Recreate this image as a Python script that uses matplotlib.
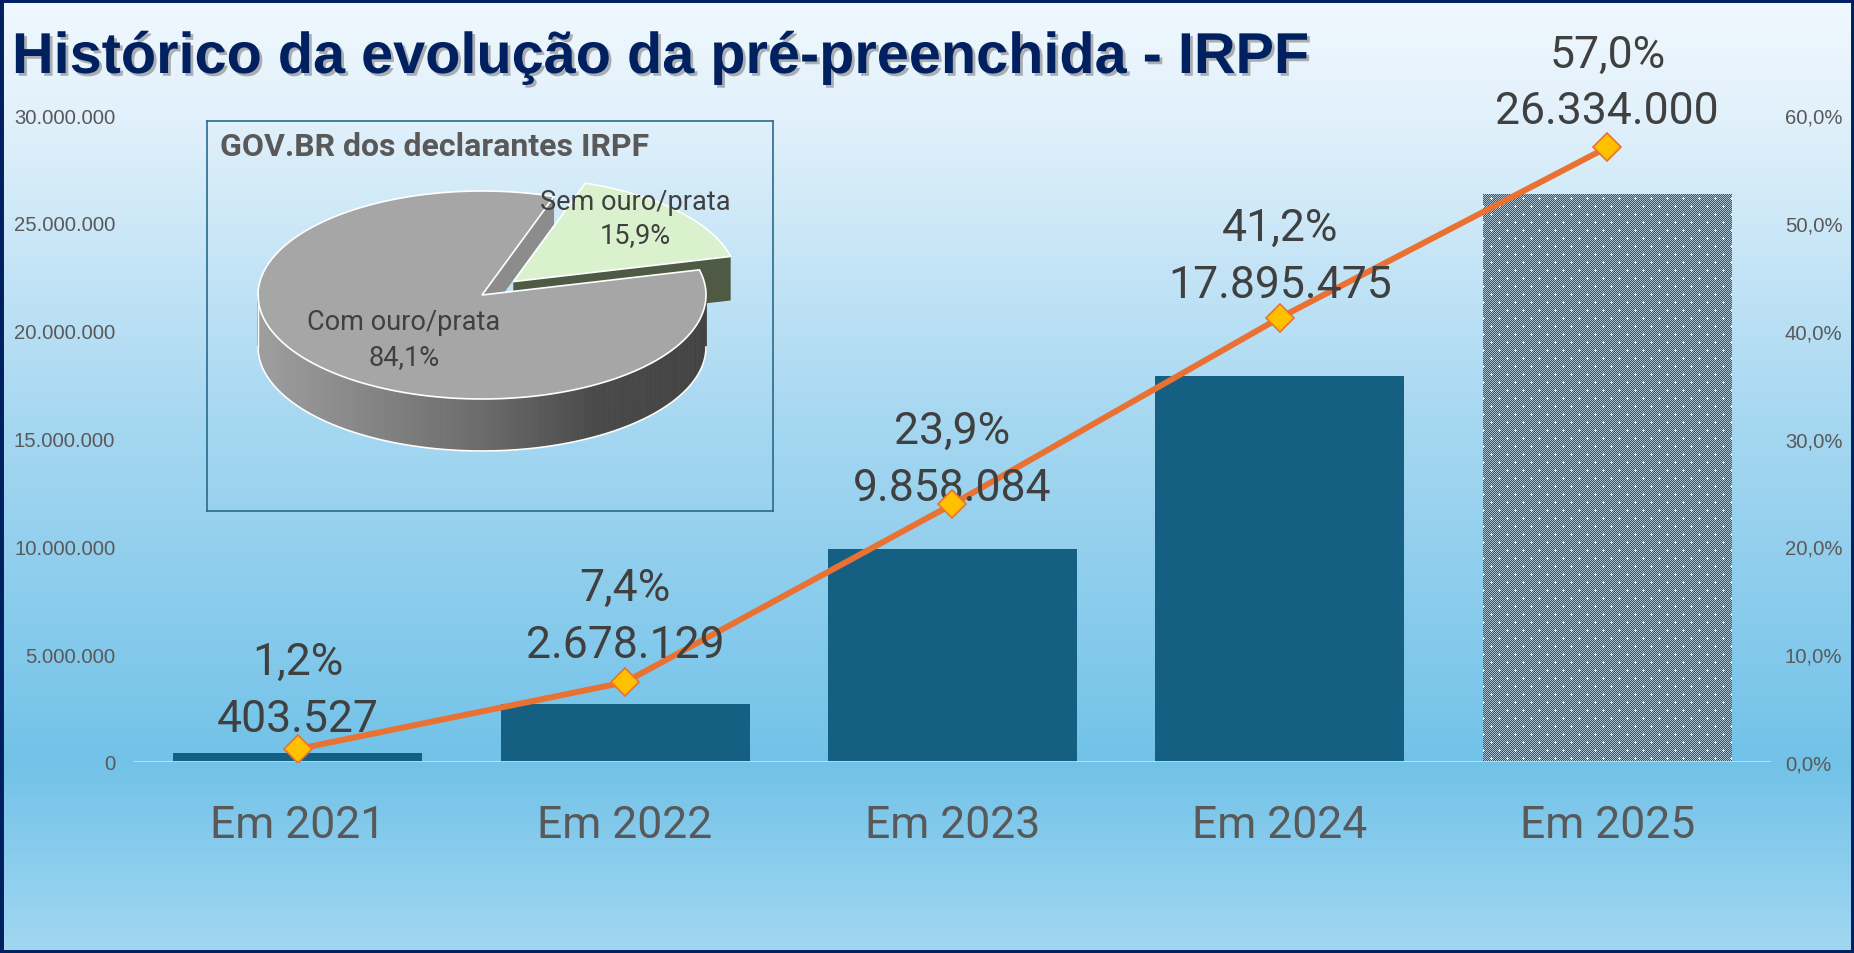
import numpy as np
import matplotlib
matplotlib.use("Agg")
import matplotlib.pyplot as plt
import matplotlib.patheffects as pe
from matplotlib.patches import Polygon, Rectangle
from matplotlib.collections import PolyCollection

W, H, DPI = 1854, 954, 100

# dados
years = ["Em 2021", "Em 2022", "Em 2023", "Em 2024", "Em 2025"]
declarants = [403527, 2678129, 9858084, 17895475, 26334000]
pct_prefilled = [1.2, 7.4, 23.9, 41.2, 57.0]
pie_labels = ["Com ouro/prata", "Sem ouro/prata"]
pie_share = [84.1, 15.9]
left_ticks = [0, 5000000, 10000000, 15000000, 20000000, 25000000, 30000000]
right_ticks = [0, 10, 20, 30, 40, 50, 60]

# deslocamento (px) dos rotulos acima do marcador
val_dy = [34, 41, 20, 37, 40]
pct_dy = [91, 98, 77, 94, 96]

TXT = "#404040"
AXC = "#595959"
LBL_FONT = ["Roboto", "DejaVu Sans"]
TICK_FONT = ["Liberation Sans", "DejaVu Sans"]
LBL_SIZE = 32


def br_int(v):
    return f"{v:,.0f}".replace(",", ".")


def br_pct(v):
    return f"{v:.1f}%".replace(".", ",")


def fx(x):
    return x / W


def fy(y):
    return 1 - y / H


fig = plt.figure(figsize=(W / DPI, H / DPI), dpi=DPI)

# fundo em degrade
bg = fig.add_axes([0, 0, 1, 1])
bg.axis("off")
stops = [(0.0, (240, 248, 254)), (0.12, (226, 241, 251)), (0.45, (165, 215, 241)),
         (0.80, (114, 194, 232)), (1.0, (162, 215, 242))]
yy = np.linspace(0, 1, H)
pos = [s[0] for s in stops]
grad = np.stack([np.interp(yy, pos, [s[1][k] for s in stops]) for k in range(3)], axis=-1) / 255
bg.imshow(grad[:, None, :], aspect="auto", extent=(0, 1, 0, 1))
bg.set_zorder(0)

# grafico principal
ax = fig.add_axes([fx(134), fy(763), fx(1771 - 134), (763 - 116) / H])
ax.set_zorder(1)
ax.patch.set_alpha(0)
x = np.arange(len(years))
bars = ax.bar(x, declarants, width=0.76, color="#156082", zorder=2)
ax.set_xlim(-0.5, len(years) - 0.5)
ax.set_ylim(0, 30000000)
for s in ax.spines.values():
    s.set_visible(False)
ax.axhline(0, color="#D9D9D9", lw=1.3, zorder=3)
ax.set_yticks(left_ticks, [br_int(v) for v in left_ticks])
ax.set_xticks(x, years)
ax.tick_params(axis="y", length=0, pad=13.5, labelsize=14.6, labelcolor=AXC)
ax.tick_params(axis="x", length=0, pad=30, labelsize=32, labelcolor=AXC)
for t in ax.get_yticklabels():
    t.set_family(TICK_FONT)
for t in ax.get_xticklabels():
    t.set_family(LBL_FONT)

# barra 2025 com padrao xadrez
last = bars[-1]
bx0, by0 = ax.transData.transform((x[-1] - 0.38, 0))
bx1, by1 = ax.transData.transform((x[-1] + 0.38, declarants[-1]))
wpx, hpx = int(round(bx1 - bx0)), int(round(by1 - by0))
ii, jj = np.indices((hpx, wpx))
tex = np.where(((ii + jj) % 2 == 0)[..., None],
               np.array([0.12, 0.37, 0.50]), np.array([0.66, 0.76, 0.82]))
rr = ii % 8
cc = (jj + (ii // 8 % 2) * 8) % 16
cross = ((rr == 4) & (abs(cc - 8) <= 1)) | ((cc == 8) & (abs(rr - 4) <= 1))
tex[cross] = 0.95
im = ax.imshow(tex, extent=(x[-1] - 0.38, x[-1] + 0.38, 0, declarants[-1]),
               aspect="auto", interpolation="nearest", zorder=2.1)
im.set_clip_path(last)
ax.set_xlim(-0.5, len(years) - 0.5)
ax.set_ylim(0, 30000000)

# eixo secundario e linha
ax2 = ax.twinx()
ax2.set_ylim(0, 60)
for s in ax2.spines.values():
    s.set_visible(False)
ax2.set_yticks(right_ticks, [br_pct(v) for v in right_ticks])
ax2.tick_params(axis="y", length=0, pad=10, labelsize=14.6, labelcolor=AXC)
for t in ax2.get_yticklabels():
    t.set_family(TICK_FONT)
ax2.plot(x, pct_prefilled, color="#E97132", lw=4.3, zorder=3, solid_capstyle="round")
ax2.plot(x, pct_prefilled, ls="none", marker="D", ms=14, mfc="#FFC000",
         mec="#E97132", mew=1.2, zorder=5)

cap = 0.711 * LBL_SIZE * DPI / 72 / 2
for i in range(len(years)):
    ax2.annotate(br_int(declarants[i]), (x[i], pct_prefilled[i]),
                 xytext=(0, (val_dy[i] - cap) * 72 / DPI), textcoords="offset points",
                 ha="center", va="baseline", fontsize=LBL_SIZE, color=TXT,
                 family=LBL_FONT, zorder=4)
    ax2.annotate(br_pct(pct_prefilled[i]), (x[i], pct_prefilled[i]),
                 xytext=(0, (pct_dy[i] - cap) * 72 / DPI), textcoords="offset points",
                 ha="center", va="baseline", fontsize=LBL_SIZE, color=TXT,
                 family=LBL_FONT, zorder=4)

# titulo
fig.text(fx(12), fy(74), "Histórico da evolução da pré-preenchida - IRPF",
         fontsize=41.5, fontweight="bold", color="#002060", family=TICK_FONT,
         va="baseline", ha="left",
         path_effects=[pe.withSimplePatchShadow(offset=(2, -2), shadow_rgbFace="#808080", alpha=0.6)])

# grafico de pizza 3D (inserido)
axp = fig.add_axes([fx(207), fy(512), fx(773 - 207), (512 - 122) / H])
axp.set_zorder(3)
axp.set_xlim(207, 773)
axp.set_ylim(512, 122)
axp.set_xticks([])
axp.set_yticks([])
axp.patch.set_alpha(0)
for s in axp.spines.values():
    s.set_color("#2A6A8C")
    s.set_linewidth(1.2)

cx, cy, ra, rb, depth = 482, 296, 224, 104, 52
total = sum(pie_share)
sem_t0 = 14.0
sem_t1 = sem_t0 + 360 * pie_share[1] / total
com_t0, com_t1 = sem_t1, sem_t0 + 360
mid = np.radians((sem_t0 + sem_t1) / 2)
sc = (cx + 0.19 * ra * np.cos(mid), cy - 0.19 * rb * np.sin(mid))


def rim(c, t_deg, dz=0):
    t = np.radians(t_deg)
    return np.column_stack([c[0] + ra * np.cos(t), c[1] - rb * np.sin(t) + dz])


def wall(c, t_deg, color, dz=depth):
    p = rim(c, t_deg)[0]
    return Polygon([c, p, (p[0], p[1] + dz), (c[0], c[1] + dz)], closed=True,
                   facecolor=color, edgecolor="none")


# parede da fatia grande no vao
axp.add_patch(wall((cx, cy), com_t0, "#8C8C8C", dz=28))
# fatia destacada
axp.add_patch(wall(sc, sem_t0, "#4E5A44", dz=44))
arc = rim(sc, np.linspace(sem_t0, sem_t1, 80))
axp.add_patch(Polygon(np.vstack([[sc], arc]), closed=True, facecolor="#D9F1CD",
                      edgecolor="white", lw=1.2))
# lateral frontal da fatia grande com degrade
ts = np.linspace(180, 360, 181)
top = rim((cx, cy), ts)
bot = rim((cx, cy), ts, depth)
quads = [[top[k], top[k + 1], bot[k + 1], bot[k]] for k in range(len(ts) - 1)]
u = (np.cos(np.radians(ts[:-1] + 0.5)) + 1) / 2
g = np.interp(u, [0, 0.5, 0.75, 1], [0.62, 0.42, 0.29, 0.26])
axp.add_collection(PolyCollection(quads, facecolors=np.column_stack([g, g, g]),
                                  edgecolors=np.column_stack([g, g, g]), linewidths=0.5))
axp.plot(bot[:, 0], bot[:, 1], color="white", lw=1.2)
axp.plot([top[0, 0], bot[0, 0]], [top[0, 1], bot[0, 1]], color="white", lw=1)
arc = rim((cx, cy), np.linspace(com_t0, com_t1, 300))
axp.add_patch(Polygon(np.vstack([[(cx, cy)], arc]), closed=True, facecolor="#A6A6A6",
                      edgecolor="white", lw=1.2))

axp.text(220, 156, "GOV.BR dos declarantes IRPF", fontsize=23, fontweight="bold",
         color=AXC, family=LBL_FONT, ha="left", va="baseline")
axp.text(404, 323, pie_labels[0], fontsize=19.5, color=TXT, family=LBL_FONT,
         ha="center", va="center")
axp.text(404, 358, br_pct(pie_share[0]), fontsize=19.5, color=TXT, family=LBL_FONT,
         ha="center", va="center")
axp.text(635, 203, pie_labels[1], fontsize=19.5, color=TXT, family=LBL_FONT,
         ha="center", va="center")
axp.text(635, 236, br_pct(pie_share[1]), fontsize=19.5, color=TXT, family=LBL_FONT,
         ha="center", va="center")

# moldura
fig.add_artist(Rectangle((0, 0), 1, 1, transform=fig.transFigure, fill=False,
                         edgecolor="#002060", lw=5, zorder=10))

fig.savefig("out.png", dpi=DPI)
